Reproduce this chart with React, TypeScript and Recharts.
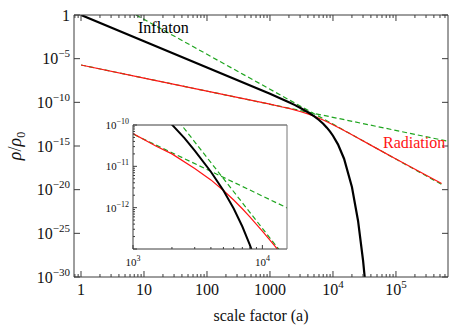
import React from 'react';
import { LineChart, Line, XAxis, YAxis } from 'recharts';

// ---- data (scale factor a, energy density rho/rho0) ----
const inflatonA = [1, 10, 100, 1000, 2000, 2500, 3000, 4000, 5000, 6000, 7000, 8000, 9000, 10000, 12000, 15000, 20000, 25000, 30000, 33000];
const inflatonRho = [1, 1e-3, 1e-6, 9.5e-10, 1.02e-10, 4.8e-11, 2.4e-11, 7.4e-12, 2.6e-12, 9.5e-13, 3.5e-13, 1.26e-13, 4.5e-14, 1.5e-14, 1.55e-15, 3.5e-17, 2.0e-20, 2.8e-24, 8.3e-29, 8e-32];

const radiationA = [1, 10, 100, 1000, 1500, 2000, 3000, 4000, 5000, 6000, 7000, 8000, 10000, 14000, 20000, 50000, 100000, 530000];
const radiationRho = [1.9e-6, 6.0e-8, 1.9e-9, 6.2e-11, 3.1e-11, 2.0e-11, 8.9e-12, 4.7e-12, 2.6e-12, 1.53e-12, 9.4e-13, 6.0e-13, 2.7e-13, 7.7e-14, 1.9e-14, 5.0e-16, 3.2e-17, 5e-20];

const slowFitA = [1, 670000];
const slowFitRho = [1.9e-6, 3.5e-15];
const fastFitA = [7.5, 530000];
const fastFitRho = [1, 4e-20];

const mainXDomain = [0.774, 670000];
const mainYDomain = [1e-30, 1];
const insetXDomain = [1000, 15500];
const insetYDomain = [1e-13, 1e-10];

const mainXMajor = [1, 10, 100, 1000, 10000, 100000];
const mainXLabels = ['1', '10', '100', '1000', '10^4', '10^5'];
const mainYMajor = [1, 1e-5, 1e-10, 1e-15, 1e-20, 1e-25, 1e-30];
const mainYLabels = ['1', '10^-5', '10^-10', '10^-15', '10^-20', '10^-25', '10^-30'];
const insetXMajor = [1000, 10000];
const insetXLabels = ['10^3', '10^4'];
const insetYMajor = [1e-10, 1e-11, 1e-12, 1e-13];
const insetYLabels = ['10^-10', '10^-11', '10^-12', ''];

// ---- helpers ----
const toPoints = (xs: number[], ys: number[]) => xs.map((a, i) => ({ a, rho: ys[i] }));
const inflaton = toPoints(inflatonA, inflatonRho);
const radiation = toPoints(radiationA, radiationRho);
const slowFit = toPoints(slowFitA, slowFitRho);
const fastFit = toPoints(fastFitA, fastFitRho);

function withMinors(majors: number[], lo: number, hi: number) {
  const out = [...majors];
  const d0 = Math.floor(Math.log10(lo)) - 1;
  const d1 = Math.ceil(Math.log10(hi));
  for (let d = d0; d <= d1; d++) {
    for (let m = 2; m <= 9; m++) {
      const v = m * Math.pow(10, d);
      if (v > lo && v < hi) out.push(v);
    }
  }
  return out.sort((p, q) => p - q);
}

const FONT = '"Liberation Serif", "Times New Roman", Times, serif';
const FRAME = '#3c3c3c';
const RED = '#ff1414';
const GREEN = '#1fa51f';

function powLabel(label: string, supSize: number, raise: number) {
  const [base, exp] = label.split('^');
  return (
    <>
      {base}
      {exp ? (
        <tspan fontSize={supSize} dy={-raise}>
          {exp.replace('-', '\u2212')}
        </tspan>
      ) : null}
    </>
  );
}

function makeXTick(majors: number[], labels: string[], o: { top: boolean; major: number; minor: number; fs: number; sup: number; raise: number; off: number }) {
  return (props: any) => {
    const { x, y, payload } = props;
    const i = majors.indexOf(payload.value);
    const len = i >= 0 ? o.major : o.minor;
    const dir = o.top ? 1 : -1;
    return (
      <g>
        <line x1={x} x2={x} y1={y} y2={y + dir * len} stroke={FRAME} strokeWidth={1} />
        {!o.top && i >= 0 && labels[i] ? (
          <text x={x} y={y + o.off} textAnchor="middle" fontFamily={FONT} fontSize={o.fs} fill="#111">
            {powLabel(labels[i], o.sup, o.raise)}
          </text>
        ) : null}
      </g>
    );
  };
}

function makeYTick(majors: number[], labels: string[], o: { right: boolean; major: number; minor: number; fs: number; sup: number; raise: number; off: number }) {
  return (props: any) => {
    const { x, y, payload } = props;
    const i = majors.indexOf(payload.value);
    const len = i >= 0 ? o.major : o.minor;
    const dir = o.right ? -1 : 1;
    return (
      <g>
        <line x1={x} x2={x + dir * len} y1={y} y2={y} stroke={FRAME} strokeWidth={1} />
        {!o.right && i >= 0 && labels[i] ? (
          <text x={x - 4} y={y + o.off} textAnchor="end" fontFamily={FONT} fontSize={o.fs} fill="#111">
            {powLabel(labels[i], o.sup, o.raise)}
          </text>
        ) : null}
      </g>
    );
  };
}

const mainXTicks = withMinors(mainXMajor, mainXDomain[0], mainXDomain[1]);
const insetXTicks = withMinors(insetXMajor, insetXDomain[0], insetXDomain[1]);
const insetYTicks = withMinors(insetYMajor, insetYDomain[0] * 0.999, insetYDomain[1] * 1.001);

const MainXBottom = makeXTick(mainXMajor, mainXLabels, { top: false, major: 6, minor: 3, fs: 16, sup: 11, raise: 7, off: 18 });
const MainXTop = makeXTick(mainXMajor, mainXLabels, { top: true, major: 6, minor: 3, fs: 16, sup: 11, raise: 7, off: 18 });
const MainYLeft = makeYTick(mainYMajor, mainYLabels, { right: false, major: 6, minor: 3, fs: 16, sup: 11, raise: 7, off: 5.5 });
const MainYRight = makeYTick(mainYMajor, mainYLabels, { right: true, major: 6, minor: 3, fs: 16, sup: 11, raise: 7, off: 5.5 });
const InsetXBottom = makeXTick(insetXMajor, insetXLabels, { top: false, major: 4, minor: 2, fs: 11, sup: 8, raise: 5, off: 17 });
const InsetYLeft = makeYTick(insetYMajor, insetYLabels, { right: false, major: 4, minor: 2, fs: 11, sup: 8, raise: 5, off: 4 });

const noTick = () => <g />;

function Series() {
  return null;
}

export default function App() {
  const lineCommon = { type: 'linear' as const, dot: false, isAnimationActive: false, dataKey: 'rho' };
  return (
    <div style={{ position: 'absolute', left: 0, top: 0, width: 449, height: 326, background: '#fff' }}>
      <div style={{ position: 'absolute', left: 0, top: 0 }}>
        <LineChart width={449} height={326} margin={{ top: 0, right: 0, bottom: 0, left: 0 }}>
          <XAxis xAxisId="b" orientation="bottom" dataKey="a" type="number" scale="log" domain={mainXDomain} allowDataOverflow ticks={mainXTicks} interval={0} tickLine={false} tickSize={0} tickMargin={0} height={49} axisLine={{ stroke: FRAME }} tick={MainXBottom} />
          <XAxis xAxisId="t" orientation="top" dataKey="a" type="number" scale="log" domain={mainXDomain} allowDataOverflow ticks={mainXTicks} interval={0} tickLine={false} tickSize={0} tickMargin={0} height={15} axisLine={{ stroke: FRAME }} tick={MainXTop} />
          <YAxis yAxisId="l" orientation="left" type="number" scale="log" domain={mainYDomain} allowDataOverflow ticks={mainYMajor} interval={0} tickLine={false} tickSize={0} tickMargin={0} width={74} axisLine={{ stroke: FRAME }} tick={MainYLeft} />
          <YAxis yAxisId="r" orientation="right" type="number" scale="log" domain={mainYDomain} allowDataOverflow ticks={mainYMajor} interval={0} tickLine={false} tickSize={0} tickMargin={0} width={1} axisLine={{ stroke: FRAME }} tick={MainYRight} />
          <Line {...lineCommon} xAxisId="b" yAxisId="l" data={slowFit} stroke={GREEN} strokeWidth={1.2} strokeDasharray="5 3" />
          <Line {...lineCommon} xAxisId="b" yAxisId="l" data={fastFit} stroke={GREEN} strokeWidth={1.2} strokeDasharray="5 3" />
          <Line {...lineCommon} xAxisId="b" yAxisId="l" data={radiation} stroke={RED} strokeWidth={1.2} />
          <Line {...lineCommon} xAxisId="b" yAxisId="l" data={inflaton} stroke="#000" strokeWidth={2.2} />
        </LineChart>
      </div>
      <div style={{ position: 'absolute', left: 95, top: 115 }}>
        <LineChart width={200} height={156} margin={{ top: 0, right: 0, bottom: 0, left: 0 }}>
          <XAxis xAxisId="b" orientation="bottom" dataKey="a" type="number" scale="log" domain={insetXDomain} allowDataOverflow ticks={insetXTicks} interval={0} tickLine={false} tickSize={0} tickMargin={0} height={22} axisLine={{ stroke: FRAME }} tick={InsetXBottom} />
          <XAxis xAxisId="t" orientation="top" dataKey="a" type="number" scale="log" domain={insetXDomain} allowDataOverflow ticks={insetXMajor} interval={0} tickLine={false} tickSize={0} tickMargin={0} height={10} axisLine={{ stroke: FRAME }} tick={noTick} />
          <YAxis yAxisId="l" orientation="left" type="number" scale="log" domain={insetYDomain} allowDataOverflow ticks={insetYTicks} interval={0} tickLine={false} tickSize={0} tickMargin={0} width={38} axisLine={{ stroke: FRAME }} tick={InsetYLeft} />
          <YAxis yAxisId="r" orientation="right" type="number" scale="log" domain={insetYDomain} allowDataOverflow ticks={insetYMajor} interval={0} tickLine={false} tickSize={0} tickMargin={0} width={8} axisLine={{ stroke: '#777' }} tick={noTick} />
          <Line {...lineCommon} xAxisId="b" yAxisId="l" data={slowFit} stroke={GREEN} strokeWidth={1.2} strokeDasharray="5 3" />
          <Line {...lineCommon} xAxisId="b" yAxisId="l" data={fastFit} stroke={GREEN} strokeWidth={1.2} strokeDasharray="5 3" />
          <Line {...lineCommon} xAxisId="b" yAxisId="l" data={radiation} stroke={RED} strokeWidth={1.2} />
          <Line {...lineCommon} xAxisId="b" yAxisId="l" data={inflaton} stroke="#000" strokeWidth={2} />
        </LineChart>
      </div>
      <svg width={449} height={326} style={{ position: 'absolute', left: 0, top: 0, pointerEvents: 'none' }}>
        <text x={138} y={33} fontFamily={FONT} fontSize={16} fill="#000">Inflaton</text>
        <text x={383} y={147.5} fontFamily={FONT} fontSize={16} fill={RED}>Radiation</text>
        <text x={261} y={321} textAnchor="middle" fontFamily={FONT} fontSize={16} fill="#111">scale factor (a)</text>
        <text x={21} y={146} transform="rotate(-90 21 146)" textAnchor="middle" fontFamily={FONT} fontSize={18} fill="#111">
          <tspan fontStyle="italic">ρ</tspan>/<tspan fontStyle="italic">ρ</tspan>
          <tspan fontSize={12} dy={4}>0</tspan>
        </text>
      </svg>
    </div>
  );
}
